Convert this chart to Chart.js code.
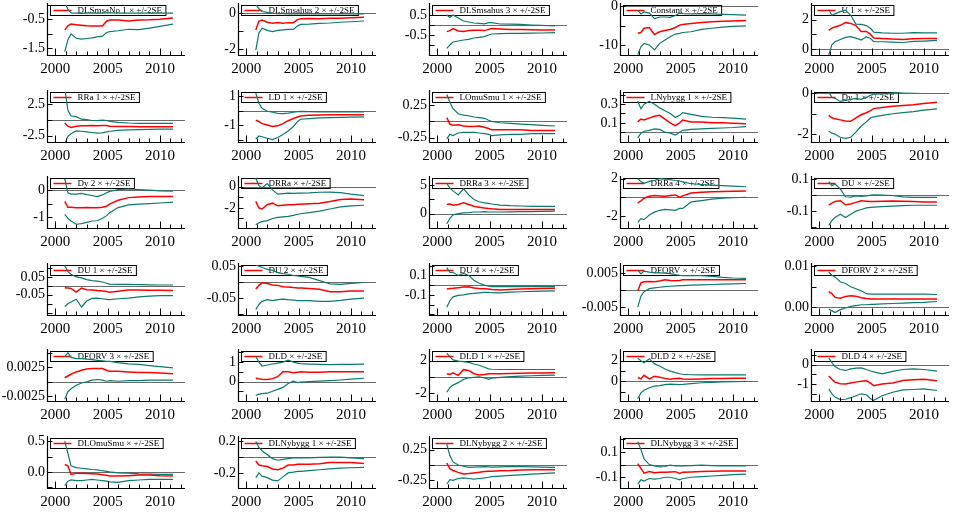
<!DOCTYPE html>
<html><head><meta charset="utf-8">
<script src="https://cdn.jsdelivr.net/npm/chart.js@4.4.1/dist/chart.umd.min.js"></script>
<style>
html,body{margin:0;padding:0;background:#fff;}
#wrap{position:relative;width:963px;height:520px;overflow:hidden;background:#fff;}
#wrap canvas{position:absolute;}
</style></head><body><div id="wrap"></div>
<script>
// time points of the recursive estimates (years)
const years = [2000.9,2001.2,2001.5,2002,2002.5,2003,2003.5,2004,2004.5,2004.9,2005.2,2006,2007,2008,2009,2010,2011.25];
const yearTicks = [2000,2005,2010];

const titles = ["DLSmsaNo 1","DLSmsahus 2","DLSmsahus 3","Constant","U 1",
  "RRa 1","LD 1","LOmuSmu 1","LNybygg 1","Dy 1",
  "Dy 2","DRRa","DRRa 3","DRRa 4","DU",
  "DU 1","DU 2","DU 4","DFORV","DFORV 2",
  "DFORV 3","DLD","DLD 1","DLD 2","DLD 4",
  "DLOmuSmu","DLNybygg 1","DLNybygg 2","DLNybygg 3"];

const yMin = [-1.73,-2.32,-1.5,-12.6,-0.4, -3.5,-2.16,-0.32,-0.105,-2.38, -1.41,-3.9,-2.5,-3.3,-0.206,
  -0.163,-0.103,-0.307,-0.0073,-0.0019, -0.0033,-1.0,-2.96,-1.88,-1.87, -0.26,-0.39,-0.375,-0.185];
const yMax = [0.0,0.46,1.0,0.3,3.0, 4.4,1.27,0.46,0.43,0.06, 0.45,0.83,6.25,2.07,0.108,
  0.117,0.054,0.207,0.0073,0.0103, 0.0053,1.57,3.2,2.94,0.7, 0.55,0.24,0.44,0.21];

const yTicks = [
  [-1.5,-1,-0.5,0],[-2,-1,0],[-1,-0.5,0,0.5],[-10,-5,0],[0,1,2,3],
  [-2.5,0,2.5],[-2,-1,0,1],[-0.25,0,0.25],[0,0.1,0.2,0.3,0.4],[-2,-1,0],
  [-1,-0.5,0],[-3,-2,-1,0],[-2.5,0,2.5,5],[-2,0,2],[-0.2,-0.1,0,0.1],
  [-0.15,-0.1,-0.05,0,0.05,0.1],[-0.1,-0.05,0,0.05],[-0.3,-0.2,-0.1,0,0.1,0.2],[-0.005,0,0.005],[0,0.005,0.01],
  [-0.0025,0,0.0025,0.005],[-1,-0.5,0,0.5,1,1.5],[-2,0,2],[-1,0,1,2],[-1.5,-1,-0.5,0,0.5],
  [-0.25,0,0.25,0.5],[-0.2,0,0.2],[-0.25,0,0.25],[-0.1,0,0.1,0.2]];

const yLabels = [
  ["-0.5","-1.5"],["0","-2"],["0.5","-0.5"],["0","-10"],["2","0"],
  ["2.5","-2.5"],["1","-1"],["0.25","-0.25"],["0.3","0.1"],["0","-2"],
  ["0","-1"],["0","-2"],["5","0"],["2","-2"],["0.1","-0.1"],
  ["0.05","-0.05"],["0.05","-0.05"],["0.1","-0.1"],["0.005","-0.005"],["0.01","0.00"],
  ["0.0025","-0.0025"],["1","0"],["2","-2"],["2","0"],["0","-1"],
  ["0.5","0.0"],["0.2","-0.2"],["0.25","-0.25"],["0.1","-0.1"]];

// recursive coefficient estimates
const coef = [
  [-0.87,-0.72,-0.66,-0.68,-0.70,-0.72,-0.73,-0.73,-0.73,-0.56,-0.52,-0.52,-0.55,-0.52,-0.51,-0.49,-0.45],
  [-0.93,-0.45,-0.38,-0.5,-0.56,-0.52,-0.55,-0.52,-0.52,-0.35,-0.3,-0.29,-0.3,-0.28,-0.27,-0.25,-0.22],
  [-0.33,-0.28,-0.18,-0.3,-0.33,-0.28,-0.26,-0.26,-0.28,-0.22,-0.18,-0.2,-0.22,-0.22,-0.24,-0.25,-0.25],
  [-7.0,-6.8,-5.7,-5.5,-7.3,-6.6,-6.3,-6.0,-5.5,-4.9,-4.7,-4.5,-4.2,-4.0,-3.9,-3.8,-3.7],
  [1.27,1.43,1.5,1.62,1.8,1.75,1.6,1.2,1.2,1.0,0.75,0.73,0.68,0.65,0.7,0.72,0.72],
  [-0.5,-1.0,-1.2,-1.0,-0.95,-0.95,-0.9,-0.95,-0.9,-0.9,-1.0,-1.05,-1.05,-1.08,-1.08,-1.08,-1.08],
  [-0.67,-0.75,-0.9,-1.0,-1.1,-1.05,-0.9,-0.7,-0.55,-0.45,-0.38,-0.32,-0.3,-0.29,-0.29,-0.29,-0.29],
  [0.06,-0.04,-0.06,-0.05,-0.07,-0.08,-0.08,-0.07,-0.09,-0.11,-0.13,-0.13,-0.13,-0.13,-0.14,-0.14,-0.14],
  [0.11,0.14,0.13,0.15,0.17,0.18,0.14,0.1,0.07,0.1,0.13,0.11,0.11,0.1,0.1,0.095,0.09],
  [-1.08,-1.2,-1.25,-1.3,-1.35,-1.37,-1.2,-1.05,-0.95,-0.85,-0.75,-0.7,-0.63,-0.6,-0.56,-0.5,-0.44],
  [-0.42,-0.64,-0.64,-0.66,-0.66,-0.65,-0.66,-0.66,-0.64,-0.6,-0.52,-0.38,-0.28,-0.26,-0.24,-0.24,-0.24],
  [-1.38,-2.0,-2.1,-1.7,-1.55,-1.8,-1.75,-1.7,-1.7,-1.65,-1.65,-1.6,-1.55,-1.4,-1.2,-1.15,-1.23],
  [1.6,1.7,1.5,1.6,1.9,1.6,1.3,1.15,1.0,0.9,0.85,0.75,0.74,0.72,0.72,0.74,0.74],
  [-0.6,-0.4,-0.1,0.1,0.19,0.15,0.1,0.2,0.25,0.0,0.15,0.45,0.55,0.6,0.62,0.65,0.68],
  [-0.063,-0.05,-0.039,-0.035,-0.06,-0.055,-0.045,-0.035,-0.038,-0.04,-0.04,-0.038,-0.036,-0.038,-0.04,-0.042,-0.043],
  [-0.01,-0.012,-0.014,-0.035,-0.012,-0.022,-0.023,-0.026,-0.028,-0.032,-0.035,-0.03,-0.023,-0.023,-0.024,-0.025,-0.026],
  [-0.021,-0.01,-0.002,-0.004,-0.009,-0.01,-0.014,-0.015,-0.017,-0.018,-0.018,-0.02,-0.022,-0.03,-0.03,-0.028,-0.028],
  [-0.04,-0.035,-0.033,-0.027,-0.02,-0.017,-0.03,-0.035,-0.036,-0.04,-0.045,-0.05,-0.045,-0.04,-0.037,-0.035,-0.033],
  [-0.0003,0.0021,0.0024,0.0025,0.0024,0.0026,0.003,0.0028,0.0027,0.0028,0.003,0.003,0.003,0.003,0.003,0.003,0.003],
  [0.0038,0.0033,0.0024,0.0022,0.0026,0.0028,0.0027,0.0023,0.0021,0.002,0.002,0.002,0.002,0.002,0.002,0.002,0.002],
  [0.0007,0.001,0.0013,0.0017,0.002,0.0022,0.0023,0.0023,0.0023,0.002,0.0018,0.0018,0.0017,0.0016,0.0016,0.0015,0.0014],
  [0.17,0.14,0.12,0.1,0.15,0.25,0.5,0.5,0.45,0.48,0.5,0.48,0.48,0.5,0.5,0.5,0.5],
  [0.4,0.32,0.5,0.2,0.9,0.8,0.4,0.25,0.3,0.4,0.4,0.4,0.42,0.45,0.48,0.5,0.52],
  [0.38,0.25,0.6,0.25,0.5,0.4,0.3,0.22,0.28,0.31,0.25,0.22,0.25,0.28,0.3,0.31,0.31],
  [-0.58,-0.75,-0.9,-0.98,-1.0,-0.95,-0.9,-0.85,-0.83,-0.95,-1.08,-1.0,-0.95,-0.82,-0.78,-0.75,-0.83],
  [0.12,0.1,-0.04,-0.02,-0.02,-0.025,-0.03,-0.035,-0.045,-0.055,-0.065,-0.067,-0.06,-0.05,-0.05,-0.06,-0.067],
  [-0.05,-0.1,-0.11,-0.12,-0.15,-0.16,-0.14,-0.1,-0.1,-0.09,-0.09,-0.09,-0.085,-0.07,-0.07,-0.07,-0.08],
  [0.03,-0.06,-0.09,-0.12,-0.145,-0.14,-0.13,-0.12,-0.105,-0.1,-0.1,-0.095,-0.09,-0.08,-0.078,-0.078,-0.078],
  [0.008,-0.03,-0.068,-0.055,-0.065,-0.06,-0.06,-0.058,-0.056,-0.07,-0.06,-0.058,-0.055,-0.052,-0.05,-0.05,-0.05]];

// coefficient + 2SE
const upper = [
  [0.1,-0.15,-0.27,-0.28,-0.29,-0.28,-0.28,-0.28,-0.28,-0.27,-0.27,-0.28,-0.28,-0.28,-0.28,-0.28,-0.28],
  [0.5,0.25,0.1,0.05,0,-0.02,-0.02,-0.03,-0.03,-0.03,-0.02,-0.03,-0.03,-0.04,-0.04,-0.04,-0.04],
  [0.5,0.38,0.5,0.35,0.2,0.15,0.1,0.08,0.06,0.12,0.12,0.05,0.04,0.03,0.0,-0.02,-0.05],
  [-1.0,-2.0,-1.5,-1.8,-3.2,-2.8,-2.8,-2.9,-2.4,-1.8,-1.9,-2.0,-1.9,-2.0,-2.1,-2.2,-2.3],
  [2.7,2.3,2.4,2.55,2.65,2.3,1.7,1.68,1.6,1.4,1.15,1.1,1.08,1.08,1.12,1.1,1.1],
  [5,1.5,0.6,0.5,0.1,0.05,-0.1,-0.1,-0.05,-0.1,-0.25,-0.4,-0.5,-0.55,-0.57,-0.57,-0.57],
  [1.2,0.5,0.15,-0.05,-0.12,-0.2,-0.22,-0.18,-0.12,-0.08,-0.06,-0.08,-0.1,-0.1,-0.1,-0.1,-0.1],
  [0.42,0.3,0.2,0.12,0.1,0.09,0.07,0.06,0.05,0.02,0.0,-0.02,-0.03,-0.04,-0.05,-0.06,-0.07],
  [0.33,0.25,0.3,0.33,0.3,0.26,0.23,0.2,0.16,0.18,0.21,0.19,0.17,0.16,0.155,0.15,0.14],
  [0.05,-0.2,-0.25,-0.4,-0.35,-0.3,-0.25,-0.3,-0.2,-0.1,-0.05,-0.03,0.02,0.06,0.08,0.09,0.1],
  [0.42,-0.1,-0.15,-0.15,-0.12,-0.17,-0.2,-0.24,-0.18,-0.1,-0.05,0.02,0.04,0.02,0.0,-0.03,-0.04],
  [0.8,0.1,-0.1,0.3,-0.3,-0.7,-0.65,-0.6,-0.62,-0.6,-0.6,-0.58,-0.52,-0.5,-0.55,-0.7,-0.83],
  [5.3,4.5,4.0,3.3,4.4,3.3,2.5,2.1,1.9,1.8,1.7,1.5,1.4,1.35,1.3,1.3,1.3],
  [2.0,1.7,1.5,1.7,1.8,2.0,1.95,1.9,1.8,1.75,1.65,1.45,1.37,1.3,1.25,1.2,1.13],
  [0.085,0.06,0.07,0.04,-0.01,-0.012,-0.005,-0.008,-0.005,0.0,0.002,0.0,-0.002,-0.01,-0.014,-0.014,-0.014],
  [0.114,0.08,0.065,0.05,0.045,0.035,0.03,0.027,0.022,0.015,0.01,0.008,0.008,0.007,0.006,0.005,0.005],
  [0.055,0.05,0.047,0.04,0.037,0.03,0.027,0.025,0.021,0.02,0.018,0.015,0.005,-0.005,-0.007,-0.004,-0.001],
  [0.18,0.13,0.13,0.1,0.12,0.1,0.05,0.02,0.0,-0.01,-0.015,-0.015,-0.015,-0.015,-0.015,-0.015,-0.015],
  [0.0058,0.0047,0.0055,0.0052,0.005,0.005,0.0049,0.0048,0.0045,0.0043,0.0042,0.0042,0.0042,0.004,0.0037,0.0035,0.0034],
  [0.0086,0.0078,0.0074,0.0062,0.0058,0.005,0.0045,0.004,0.0033,0.0032,0.0032,0.0032,0.0032,0.0032,0.0032,0.0032,0.0031],
  [0.0043,0.005,0.0042,0.004,0.004,0.0039,0.0038,0.0037,0.0036,0.0035,0.0035,0.0033,0.0031,0.003,0.0028,0.0026,0.0024],
  [1.3,1.0,0.8,0.85,0.9,0.95,1.0,1.1,1.0,0.95,0.92,0.9,0.88,0.87,0.88,0.88,0.9],
  [2.92,2.5,2.1,1.95,1.9,1.8,1.6,1.44,1.2,1.0,0.95,0.92,0.92,0.92,0.92,0.92,0.92],
  [2.25,2.0,1.8,2.2,1.7,1.5,1.2,1.0,0.85,0.75,0.7,0.65,0.63,0.63,0.63,0.63,0.63],
  [0.33,0.1,-0.1,-0.25,-0.3,-0.22,-0.18,-0.17,-0.25,-0.33,-0.37,-0.47,-0.35,-0.25,-0.22,-0.25,-0.33],
  [0.5,0.3,0.1,0.07,0.06,0.05,0.04,0.035,0.02,0.01,0.0,-0.015,-0.02,-0.03,-0.035,-0.04,-0.04],
  [0.2,0.12,0.08,0.03,-0.02,-0.04,-0.03,-0.02,-0.01,-0.01,-0.01,-0.01,-0.005,0.0,0.0,-0.01,-0.02],
  [0.34,0.15,0.05,0.0,-0.02,-0.04,-0.035,-0.03,-0.026,-0.03,-0.035,-0.03,-0.025,-0.025,-0.03,-0.035,-0.04],
  [0.18,0.12,0.045,0.0,-0.01,-0.018,-0.015,-0.005,-0.01,-0.01,-0.01,-0.008,-0.005,-0.008,-0.01,-0.01,-0.01]];

// coefficient - 2SE
const lower = [
  [-1.62,-1.2,-1.0,-1.15,-1.18,-1.16,-1.14,-1.1,-1.08,-0.95,-0.92,-0.89,-0.84,-0.85,-0.8,-0.74,-0.66],
  [-2.05,-1.1,-0.83,-0.95,-1.02,-0.95,-0.92,-0.9,-0.9,-0.7,-0.62,-0.6,-0.56,-0.54,-0.5,-0.47,-0.43],
  [-1.17,-1.0,-0.85,-0.8,-0.75,-0.72,-0.65,-0.62,-0.58,-0.5,-0.45,-0.43,-0.42,-0.42,-0.41,-0.4,-0.38],
  [-12.5,-10.5,-9.6,-10.0,-11.3,-9.6,-8.7,-7.9,-7.2,-7.0,-6.8,-6.6,-6.0,-5.7,-5.4,-5.2,-5.1],
  [-0.4,0.3,0.5,0.65,0.8,0.85,0.75,0.62,0.84,0.72,0.5,0.5,0.48,0.45,0.52,0.55,0.6],
  [-3.8,-2.6,-2.2,-1.75,-1.8,-1.9,-2.0,-2.1,-2.05,-1.9,-1.8,-1.65,-1.6,-1.55,-1.5,-1.45,-1.45],
  [-1.95,-1.75,-1.8,-1.9,-2.0,-1.85,-1.65,-1.4,-1.1,-0.75,-0.6,-0.55,-0.5,-0.49,-0.47,-0.45,-0.44],
  [-0.27,-0.2,-0.22,-0.18,-0.17,-0.17,-0.17,-0.18,-0.19,-0.2,-0.22,-0.21,-0.2,-0.2,-0.19,-0.19,-0.19],
  [-0.06,-0.01,0.01,0.02,0.035,0.03,0.0,-0.01,-0.03,0.0,0.02,0.03,0.035,0.04,0.045,0.05,0.06],
  [-1.85,-1.95,-2.0,-2.15,-2.2,-2.15,-1.9,-1.6,-1.4,-1.2,-1.15,-1.08,-1.0,-0.95,-0.9,-0.82,-0.76],
  [-0.9,-1.05,-1.15,-1.27,-1.25,-1.2,-1.15,-1.14,-1.05,-0.95,-0.84,-0.65,-0.55,-0.52,-0.5,-0.48,-0.45],
  [-3.6,-3.4,-3.3,-3.2,-3.0,-2.9,-2.85,-2.8,-2.7,-2.6,-2.55,-2.45,-2.3,-2.1,-1.9,-1.8,-1.75],
  [-1.8,-0.8,-0.2,0.0,0.15,0.2,0.3,0.3,0.35,0.3,0.3,0.3,0.32,0.35,0.38,0.4,0.45],
  [-2.7,-2.3,-2.4,-1.9,-1.6,-1.4,-1.3,-1.35,-1.4,-1.2,-1.2,-0.5,-0.35,-0.2,-0.1,-0.05,0.0],
  [-0.19,-0.16,-0.14,-0.12,-0.14,-0.12,-0.1,-0.09,-0.08,-0.077,-0.075,-0.072,-0.069,-0.065,-0.063,-0.063,-0.063],
  [-0.115,-0.1,-0.09,-0.075,-0.118,-0.085,-0.07,-0.068,-0.072,-0.075,-0.077,-0.072,-0.068,-0.062,-0.057,-0.055,-0.054],
  [-0.086,-0.07,-0.06,-0.055,-0.058,-0.055,-0.053,-0.055,-0.056,-0.058,-0.058,-0.058,-0.06,-0.06,-0.057,-0.053,-0.05],
  [-0.227,-0.16,-0.12,-0.105,-0.1,-0.09,-0.085,-0.08,-0.075,-0.073,-0.078,-0.08,-0.072,-0.068,-0.065,-0.062,-0.06],
  [-0.005,-0.0018,-0.0005,0.0004,0.0006,0.0008,0.001,0.0011,0.0012,0.0013,0.0013,0.0014,0.0015,0.0016,0.0017,0.0018,0.0019],
  [-0.0005,-0.0009,-0.0013,-0.0006,-0.0002,0.0002,0.0004,0.0006,0.0006,0.0007,0.0007,0.0008,0.0009,0.001,0.0011,0.0012,0.0014],
  [-0.003,-0.0017,-0.0012,-0.0006,-0.0002,0.0,0.0003,0.0004,0.0003,0.0001,0.0002,0.0001,0.0002,0.0002,0.0003,0.0003,0.0003],
  [-0.72,-0.65,-0.62,-0.6,-0.5,-0.4,-0.3,-0.1,0.02,-0.05,-0.03,0.0,0.02,0.05,0.08,0.12,0.17],
  [-1.88,-1.3,-1.0,-0.7,-0.3,-0.1,-0.05,0.0,-0.1,-0.28,-0.15,-0.05,0.05,0.1,0.15,0.2,0.24],
  [-1.66,-1.1,-0.85,-0.6,-0.45,-0.4,-0.3,-0.25,-0.28,-0.3,-0.28,-0.2,-0.12,-0.08,-0.05,-0.02,0.0],
  [-1.25,-1.5,-1.67,-1.8,-1.78,-1.7,-1.6,-1.5,-1.55,-1.75,-1.83,-1.6,-1.42,-1.3,-1.28,-1.25,-1.33],
  [-0.22,-0.15,-0.13,-0.14,-0.14,-0.13,-0.12,-0.13,-0.14,-0.15,-0.16,-0.17,-0.14,-0.13,-0.12,-0.12,-0.12],
  [-0.26,-0.2,-0.24,-0.26,-0.29,-0.3,-0.25,-0.2,-0.19,-0.18,-0.18,-0.17,-0.16,-0.15,-0.14,-0.135,-0.13],
  [-0.31,-0.24,-0.25,-0.22,-0.21,-0.22,-0.23,-0.22,-0.21,-0.2,-0.19,-0.18,-0.17,-0.16,-0.15,-0.14,-0.13],
  [-0.155,-0.12,-0.13,-0.11,-0.115,-0.11,-0.1,-0.1,-0.11,-0.12,-0.11,-0.1,-0.095,-0.09,-0.085,-0.08,-0.075]];

// ---------- layout / style ----------
const RED = '#ff0000', TEAL = '#0b7a6c';
const FONT = '"Liberation Serif","DejaVu Serif",serif';
const colX = [2,193,384,575,766];
const rowY = [0,87,173,260,346,433];
const CW = 190, CH = 95, TOPPAD = 13, AXW = 45, XAXH = 32;

const oxPlugin = {
  id: 'ox',
  beforeDatasetsDraw(chart) {
    const i = chart.options.plugins.ox.idx;
    const {ctx, chartArea: a, scales: {y}} = chart;
    ctx.save();
    if (y.min < 0 && y.max > 0) {
      const py = Math.round(y.getPixelForValue(0)) + 0.5;
      ctx.strokeStyle = '#6a6a6a'; ctx.lineWidth = 1;
      ctx.beginPath(); ctx.moveTo(a.left, py); ctx.lineTo(a.right, py); ctx.stroke();
    }
    // legend
    const txt = titles[i] + ' \u00d7 +/-2SE';
    ctx.font = '9px ' + FONT;
    const tw = ctx.measureText(txt).width;
    const bx = a.left + 3.5, by = a.top + 0.5, bw = 27 + tw + 4, bh = 10;
    ctx.strokeStyle = '#000'; ctx.lineWidth = 1;
    ctx.strokeRect(bx, by, bw, bh);
    ctx.strokeStyle = RED; ctx.lineWidth = 1.5;
    ctx.beginPath(); ctx.moveTo(bx + 3, by + 5); ctx.lineTo(bx + 21, by + 5); ctx.stroke();
    ctx.fillStyle = '#000'; ctx.textBaseline = 'middle'; ctx.textAlign = 'left';
    ctx.fillText(txt, bx + 27, by + 5.5);
    ctx.restore();
  },
  afterDatasetsDraw(chart) {
    const i = chart.options.plugins.ox.idx;
    const {ctx, chartArea: a, scales: {x, y}} = chart;
    ctx.save();
    ctx.strokeStyle = '#000'; ctx.lineWidth = 1.2;
    const L = Math.round(a.left) + 0.5, B = Math.round(a.bottom) + 0.5;
    ctx.beginPath();
    ctx.moveTo(L, a.top - 2); ctx.lineTo(L, B);
    ctx.lineTo(a.right, B);
    ctx.stroke();
    ctx.lineWidth = 1;
    ctx.beginPath();
    yTicks[i].forEach(v => {
      const py = Math.round(y.getPixelForValue(v)) + 0.5;
      ctx.moveTo(L, py); ctx.lineTo(L + 5, py);
    });
    for (let yr = 2000; yr <= 2012; yr++) {
      const px = Math.round(x.getPixelForValue(yr)) + 0.5;
      const len = (yr % 5 === 0) ? 7 : 4;
      ctx.moveTo(px, B); ctx.lineTo(px, B - len);
    }
    ctx.stroke();
    ctx.restore();
  }
};

const wrap = document.getElementById('wrap');
titles.forEach((t, i) => {
  const r = Math.floor(i / 5), c = i % 5;
  const cv = document.createElement('canvas');
  cv.width = CW; cv.height = CH;
  cv.style.left = colX[c] + 'px';
  cv.style.top = (rowY[r] - (TOPPAD - 5)) + 'px';
  cv.style.width = CW + 'px'; cv.style.height = CH + 'px';
  wrap.appendChild(cv);
  const mk = arr => years.map((yr, k) => ({x: yr, y: arr[k]}));
  new Chart(cv, {
    type: 'line',
    data: {
      datasets: [
        {data: mk(coef[i]), borderColor: RED, borderWidth: 1.5},
        {data: mk(upper[i]), borderColor: TEAL, borderWidth: 1.2},
        {data: mk(lower[i]), borderColor: TEAL, borderWidth: 1.2}
      ]
    },
    options: {
      responsive: false, animation: false, devicePixelRatio: 1,
      layout: {padding: {top: TOPPAD, right: 7, left: 0, bottom: 0}},
      elements: {point: {radius: 0}, line: {tension: 0}},
      plugins: {legend: {display: false}, tooltip: {enabled: false}, ox: {idx: i}},
      scales: {
        x: {
          type: 'linear', min: 1999.2, max: 2012.4,
          grid: {display: false, drawTicks: false}, border: {display: false},
          afterBuildTicks: s => { s.ticks = yearTicks.map(v => ({value: v})); },
          afterFit: s => { s.height = XAXH; s.paddingLeft = 0; s.paddingRight = 0; },
          ticks: {autoSkip: false, maxRotation: 0, padding: 5, color: '#000',
            font: {family: FONT, size: 15}, callback: v => String(v)}
        },
        y: {
          type: 'linear', min: yMin[i], max: yMax[i],
          grid: {display: false, drawTicks: false}, border: {display: false},
          afterBuildTicks: s => { s.ticks = yTicks[i].map(v => ({value: v})); },
          afterFit: s => { s.width = AXW; s.paddingTop = 0; s.paddingBottom = 0; },
          ticks: {autoSkip: false, padding: 2, color: '#000',
            font: {family: FONT, size: 14},
            callback: v => {
              const m = yLabels[i].find(s => Math.abs(Number(s) - v) < 1e-9);
              return m === undefined ? '' : m;
            }}
        }
      }
    },
    plugins: [oxPlugin]
  });
});
</script>
</body></html>
